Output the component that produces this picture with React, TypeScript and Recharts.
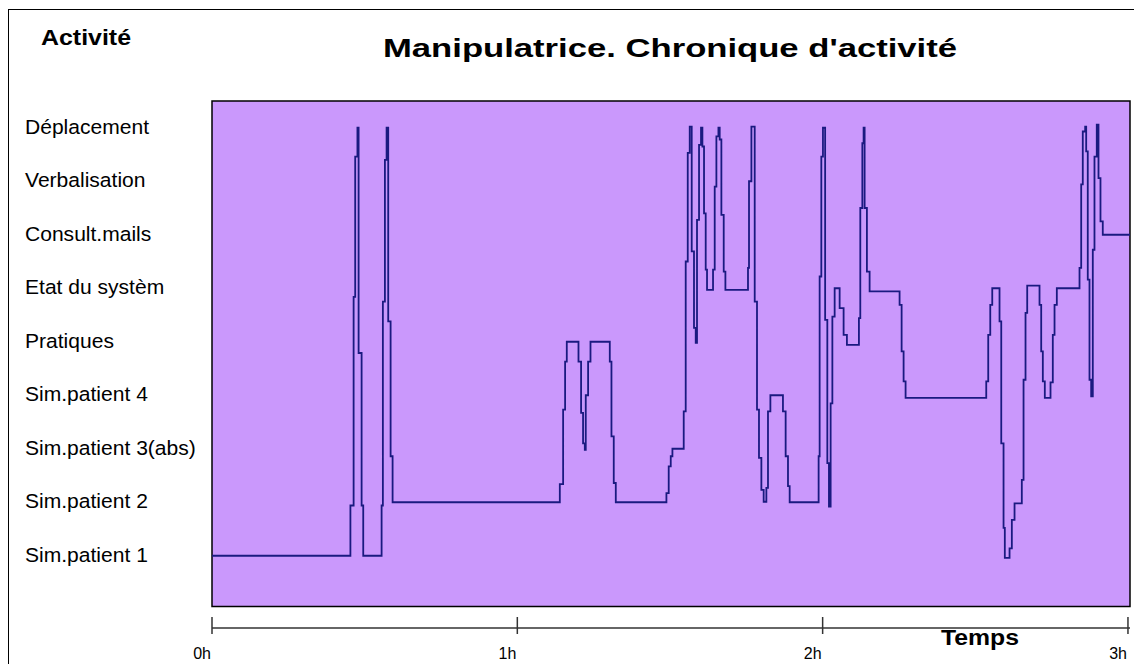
import React from 'react';
import { LineChart, Line, XAxis, YAxis, ReferenceArea } from 'recharts';

// activity names, level 1 (bottom) to 9 (top)
const activities = [
  'Sim.patient 1',
  'Sim.patient 2',
  'Sim.patient 3(abs)',
  'Sim.patient 4',
  'Pratiques',
  'Etat du systèm',
  'Consult.mails',
  'Verbalisation',
  'Déplacement',
];
const levelTicks = [1, 2, 3, 4, 5, 6, 7, 8, 9];

const hourTicks = [0, 60, 120, 180];
const hourLabels = ['0h', '1h', '2h', '3h'];

// time in minutes, activity level
const minutes = [
  0, 27.2, 27.83, 28.14, 28.58, 28.81, 29.4, 29.72, 33.33, 33.58, 33.98, 34.31, 34.63, 35.1, 35.49,
  68.35, 69.0, 69.39, 69.72, 72.02, 72.53, 72.92, 73.26, 73.45, 73.91, 74.38, 78.17, 78.5, 78.95, 79.35,
  89.3, 89.75, 90.15, 90.48, 92.7, 93.09, 93.49, 93.88, 94.27, 94.72, 95.06, 95.31, 95.71, 96.1, 96.37,
  96.69, 97.02, 97.28, 98.46, 98.79, 99.12, 99.52, 99.77, 100.1, 100.56, 100.89, 105.33, 105.53, 106.0,
  106.65, 107.1, 107.49, 107.96, 108.41, 108.94, 109.26, 109.73, 112.2, 112.73, 113.19, 113.52,
  119.21, 119.41, 119.74, 120.06, 120.49, 120.92, 121.24, 121.57, 121.91, 122.36, 123.34, 124.12, 124.77,
  127.13, 127.4, 127.8, 128.05, 128.25, 128.7, 129.23, 135.12, 135.52, 135.91, 136.3,
  152.15, 152.54, 152.94, 153.33, 154.76, 155.1, 155.55, 155.8, 156.73, 157.18, 157.71, 159.14, 159.48,
  159.87, 160.2, 162.62, 162.95, 163.27, 163.66, 164.78, 165.23, 165.57, 166.02, 170.48, 170.81, 171.12,
  171.59, 171.79, 172.1, 172.44, 172.77, 173.09, 173.42, 173.87, 174.21, 174.6, 175.05, 180.4,
];
const levels = [
  1, 1.94, 5.84, 8.46, 9, 4.79, 1.94, 1, 1.94, 5.75, 8.4, 9, 5.38, 2.86, 2,
  2.34, 3.73, 4.63, 5, 4.63, 3.67, 3.1, 2.98, 4.0, 4.63, 5, 4.63, 3.23, 2.36, 2,
  2.17, 2.67, 2.86, 3, 3.7, 6.5, 8.53, 9.02, 6.69, 5.26, 4.98, 7.28, 8.68, 9, 8.65,
  7.4, 6.35, 5.97, 6.35, 7.9, 8.84, 9, 8.78, 7.37, 6.31, 5.97, 6.38, 8.0, 9.02,
  5.75, 3.73, 2.83, 2.23, 2.01, 2.27, 3.7, 4, 3.7, 2.86, 2.3, 2,
  2.86, 6.22, 8.46, 9, 5.41, 2.73, 1.92, 3.85, 5.47, 6, 5.63, 5.13, 4.94,
  5.44, 7.5, 8.71, 9, 7.5, 6.31, 5.94, 5.69, 4.82, 4.26, 3.95,
  4.26, 5.13, 5.69, 6, 5.38, 3.1, 1.52, 0.96, 1.14, 1.67, 1.98, 2.42, 4.29,
  5.54, 6.05, 5.69, 4.82, 4.26, 3.95, 4.24, 5.13, 5.69, 6, 6.38, 7.94, 8.93,
  9.02, 8.56, 6.16, 4.29, 3.98, 6.72, 8.46, 9.06, 8.06, 7.25, 7, 7,
];

const data = minutes.map((t, i) => ({ t, level: levels[i] }));

const FONT = '"Liberation Sans", Arial, sans-serif';

function ActivityTick(props: any) {
  const { y, payload } = props;
  return (
    <text
      transform={`translate(25 ${y + 6}) scale(1.08 1)`}
      fontSize={19.5}
      fontFamily={FONT}
      fill="#000"
      textAnchor="start"
    >
      {activities[payload.value - 1]}
    </text>
  );
}

function HourTick(props: any) {
  const { x, y, payload } = props;
  const idx = hourTicks.indexOf(payload.value);
  return (
    <g>
      <line x1={x} x2={x} y1={y - 11} y2={y + 6} stroke="#333" strokeWidth={1.5} />
      <text x={x - 1} y={y + 31} fontSize={16} fontFamily={FONT} fill="#000" textAnchor="end">
        {hourLabels[idx]}
      </text>
    </g>
  );
}

export default function App() {
  return (
    <div style={{ position: 'absolute', left: 0, top: 0, width: 1134, height: 664, background: '#fff' }}>
      <LineChart
        width={1134}
        height={664}
        data={data}
        margin={{ top: 101, right: 4, bottom: 0, left: 0 }}
      >
        <ReferenceArea
          x1={0}
          x2={180.4}
          y1={0.05}
          y2={9.5}
          fill="#CA98FC"
          fillOpacity={1}
          stroke="#000"
          strokeWidth={1.5}
        />
        <XAxis
          dataKey="t"
          type="number"
          domain={[0, 180.4]}
          ticks={hourTicks}
          tick={<HourTick />}
          tickLine={false}
          tickSize={0}
          tickMargin={0}
          axisLine={{ stroke: '#333', strokeWidth: 1.5 }}
          height={36}
          interval={0}
        />
        <YAxis
          type="number"
          domain={[-0.35, 9.5]}
          ticks={levelTicks}
          tick={<ActivityTick />}
          tickLine={false}
          axisLine={false}
          width={212}
          interval={0}
        />
        <Line
          type="stepAfter"
          dataKey="level"
          stroke="#1a1a80"
          strokeWidth={1.8}
          dot={false}
          isAnimationActive={false}
        />
      </LineChart>
      <svg
        width={1134}
        height={664}
        style={{ position: 'absolute', left: 0, top: 0, pointerEvents: 'none' }}
      >
        <rect x={8.5} y={9.5} width={1200} height={700} fill="none" stroke="#000" strokeWidth={1} />
        <text
          x={41}
          y={45}
          fontSize={22}
          fontWeight="bold"
          fontFamily={FONT}
          fill="#000"
          textLength={90}
          lengthAdjust="spacingAndGlyphs"
        >
          Activité
        </text>
        <text
          x={383}
          y={57}
          fontSize={25}
          fontWeight="bold"
          fontFamily={FONT}
          fill="#000"
          textLength={574}
          lengthAdjust="spacingAndGlyphs"
        >
          Manipulatrice. Chronique d'activité
        </text>
        <text
          x={941}
          y={645}
          fontSize={22}
          fontWeight="bold"
          fontFamily={FONT}
          fill="#000"
          textLength={78}
          lengthAdjust="spacingAndGlyphs"
        >
          Temps
        </text>
      </svg>
    </div>
  );
}
